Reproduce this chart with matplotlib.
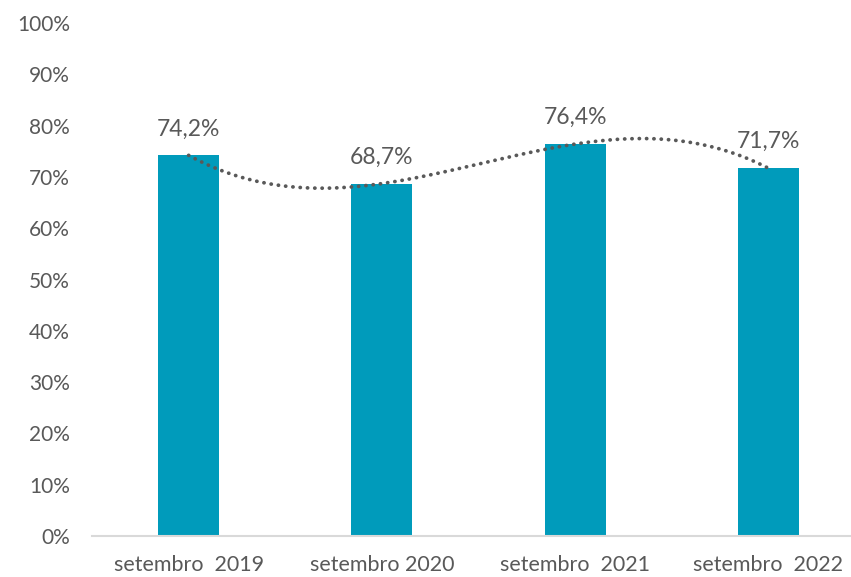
import matplotlib

matplotlib.use("Agg")
import matplotlib.pyplot as plt
import numpy as np

# Values
categories = ["setembro  2019", "setembro 2020", "setembro  2021", "setembro  2022"]
values = [74.2, 68.7, 76.4, 71.7]
labels = ["74,2%", "68,7%", "76,4%", "71,7%"]
y_ticks = list(range(0, 101, 10))

BAR_COLOR = "#009BBB"
TEXT_COLOR = "#595959"
TREND_COLOR = "#595959"

plt.rcParams["font.family"] = ["Lato", "DejaVu Sans"]

W, H = 851, 577
fig = plt.figure(figsize=(W / 100, H / 100), dpi=100)
# axes spans 92..865 px horizontally (right edge is cut off like the reference)
ax = fig.add_axes([92 / W, (H - 536) / H, 773 / W, 513 / H])

x = np.arange(len(categories))
ax.bar(x, values, width=0.315, color=BAR_COLOR, zorder=2)

# polynomial (order 3) trendline through the series
coef = np.polyfit(x, values, 3)
xs = np.linspace(x[0], x[-1], 300)
ax.plot(
    xs,
    np.polyval(coef, xs),
    color=TREND_COLOR,
    linewidth=2.7,
    linestyle=(0, (0.05, 1.9)),
    dash_capstyle="round",
    zorder=3,
)

for xi, v, lab in zip(x, values, labels):
    ax.annotate(
        lab,
        (xi, v),
        xytext=(0, 19),
        textcoords="offset points",
        ha="center",
        va="center",
        fontsize=16.5,
        color=TEXT_COLOR,
    )

ax.set_xlim(-0.5, 3.5)
ax.set_ylim(0, 100)
ax.set_yticks(y_ticks)
ax.set_yticklabels([f"{t}%" for t in y_ticks])
ax.set_xticks(x)
ax.set_xticklabels(categories)

ax.tick_params(axis="y", length=0, pad=16, labelsize=15, labelcolor=TEXT_COLOR)
ax.tick_params(axis="x", length=0, pad=14, labelsize=15.5, labelcolor=TEXT_COLOR)

for side in ["top", "right", "left"]:
    ax.spines[side].set_visible(False)
ax.spines["bottom"].set_color("#D9D9D9")
ax.spines["bottom"].set_linewidth(1.5)
ax.spines["bottom"].set_zorder(4)

fig.savefig("out.png", dpi=100)
